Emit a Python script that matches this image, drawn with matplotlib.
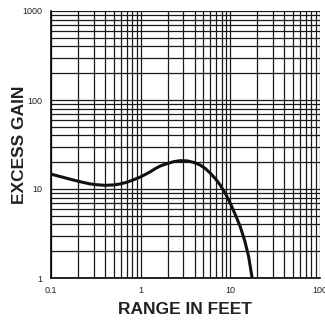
import matplotlib
matplotlib.use("Agg")
import matplotlib.pyplot as plt
from matplotlib.ticker import LogLocator, FixedLocator, FixedFormatter, NullFormatter

range_ft = [0.1, 0.13, 0.163, 0.21, 0.273, 0.33, 0.40, 0.49, 0.59, 0.70, 0.80, 0.90, 1.0,
            1.13, 1.28, 1.45, 1.65, 2.0, 2.35, 2.75, 3.3, 3.9, 4.6, 5.3, 6.0, 6.8, 7.7,
            8.9, 10.0, 11.5, 12.9, 14.5, 16.0, 17.5]
excess_gain = [14.7, 13.7, 12.9, 12.1, 11.4, 11.15, 11.0, 11.1, 11.4, 11.9, 12.5, 13.1, 13.7,
               14.6, 15.6, 16.9, 18.1, 19.4, 20.3, 20.8, 20.7, 19.9, 18.6, 16.9, 15.0, 13.1, 11.1,
               8.7, 6.9, 5.0, 3.77, 2.6, 1.74, 1.0]

x_ticks = [0.1, 1, 10, 100]
x_tick_labels = ["0.1", "1", "10", "100"]
y_ticks = [1, 10, 100, 1000]
y_tick_labels = ["1", "10", "100", "1000"]

plt.rcParams['font.family'] = ['Liberation Sans', 'DejaVu Sans']

fig = plt.figure(figsize=(3.25, 3.2), dpi=100)
ax = fig.add_axes([51/325, 1-278/320, (320-51)/325, (278-11)/320])
ax.set_xscale('log')
ax.set_yscale('log')
ax.set_xlim(0.1, 100)
ax.set_ylim(1, 1000)

ax.xaxis.set_major_locator(FixedLocator(x_ticks))
ax.xaxis.set_major_formatter(FixedFormatter(x_tick_labels))
ax.yaxis.set_major_locator(FixedLocator(y_ticks))
ax.yaxis.set_major_formatter(FixedFormatter(y_tick_labels))
ax.xaxis.set_minor_locator(LogLocator(base=10, subs=range(2, 10)))
ax.yaxis.set_minor_locator(LogLocator(base=10, subs=range(2, 10)))
ax.xaxis.set_minor_formatter(NullFormatter())
ax.yaxis.set_minor_formatter(NullFormatter())

ax.grid(True, which='both', color='#1a1a1a', linewidth=0.9)
ax.tick_params(which='both', length=0, labelsize=6.5, colors='#222222', pad=6)

for s in ax.spines.values():
    s.set_visible(False)
ax.spines['left'].set_visible(True)
ax.spines['bottom'].set_visible(True)
ax.spines['left'].set_linewidth(1.2)
ax.spines['bottom'].set_linewidth(1.2)

ax.plot(range_ft, excess_gain, color='#111111', linewidth=2.2, solid_capstyle='butt',
        solid_joinstyle='round', zorder=5)

ax.set_xlabel("RANGE IN FEET", fontsize=12.5, fontweight='bold', color='#222222', labelpad=5)
ax.set_ylabel("EXCESS GAIN", fontsize=12.5, fontweight='bold', color='#222222', labelpad=-3)

fig.savefig("out.png", dpi=100)
